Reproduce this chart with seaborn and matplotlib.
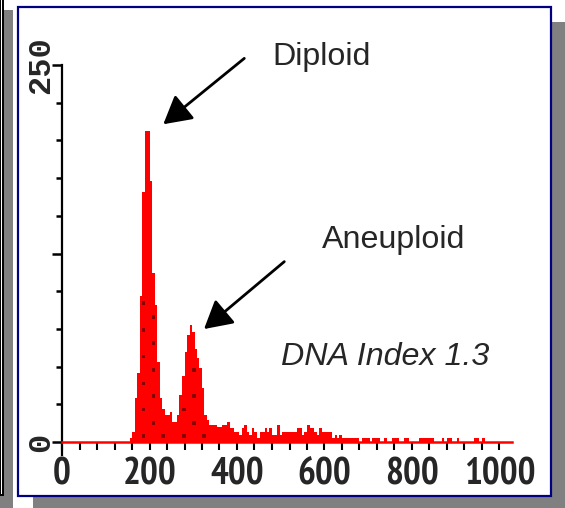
import numpy as np
import pandas as pd
import matplotlib
matplotlib.use("Agg")
import matplotlib.pyplot as plt
from matplotlib import font_manager
from matplotlib.patches import Rectangle
from matplotlib.ticker import FixedLocator, MultipleLocator
import seaborn as sns

# ---------------- data ----------------
bin_width = 40 / 7          # channel width in axis units (180 channels)
counts = [
    0, 0, 0, 0, 0, 0, 0, 0, 0, 0, 0, 0, 0, 0, 0, 0, 0, 0, 0, 0, 0, 0, 0, 0, 0, 0, 0,
    2.4, 6.5, 29, 46, 97, 166, 206, 206, 173, 112, 91, 53, 29, 22, 18, 18, 20, 13.5,
    13.5, 18, 31, 44, 59.5, 71, 77.5, 73, 61.5, 56, 49, 35.5, 18, 14.5, 11.3, 11.3,
    11.3, 9.7, 9.7, 11.3, 11, 13.3,
    9.3, 9.3, 6.6, 6.6, 4.4, 9.3, 11.3, 6.6, 4.4, 9.3, 6.6, 2.4, 6.6, 6.6, 9.3, 6.6,
    9.3, 4.4, 4.4, 11.3, 4.4, 6.6, 6.6, 6.6, 6.6, 6.6, 6.6, 9.3, 9.3, 4.4, 6.6, 11.3,
    9.3, 9.3, 6.6, 4.4, 9.3,
    6.6, 6.6, 6.6, 6.6, 2.4, 4.4, 2.4, 4.4, 2.4, 2.4, 2.4, 2.4, 2.4, 2.4, 2.4, 0,
    2.4, 2.4, 2.4, 0, 2.4, 2.4, 2.4, 0, 0, 2.4, 0, 0, 2.4, 2.4, 2.4, 0, 0, 2.4, 2.4,
    0, 0, 0, 0, 2.4, 2.4, 2.4, 2.4, 2.4, 2.4, 0, 0, 0, 2.4, 0, 2.4, 2.4, 0, 0, 2.4,
    0, 0, 0, 0, 0, 0, 2.4, 2.4, 0, 2.4, 0, 0, 0, 0, 0, 0, 0, 0, 0, 0, 0,
]
dot_x = [186, 186, 186, 186, 186, 186, 209, 209, 209, 209, 209, 231, 279, 279,
         302, 302, 302, 325]
dot_y = [92, 74.3, 56.6, 38.9, 21.6, 3.8, 83.1, 65.5, 47.7, 30.3, 12.6, 3.8, 21.6,
         3.8, 47.7, 30.3, 12.6, 3.8]
x_tick_values = [0, 200, 400, 600, 800, 1000]
x_tick_labels = ["0", "200", "400", "600", "800", "1000"]
y_tick_values = [0, 125, 250]
y_tick_labels = ["0", "", "250"]
label_diploid = "Diploid"
label_aneuploid = "Aneuploid"
label_index = "DNA Index 1.3"

# ---------------- fonts ----------------
sns.set_style("white")
names = {f.name for f in font_manager.fontManager.ttflist}
x_font, x_stretch = "DejaVu Sans", "condensed"
for cand in ["PT Sans Narrow", "Liberation Sans Narrow", "Arial Narrow",
             "Archivo Narrow", "Roboto Condensed", "Asap Condensed",
             "Barlow Semi Condensed", "IBM Plex Sans Condensed"]:
    if cand in names:
        x_font, x_stretch = cand, "normal"
        break
ann_font = ["Liberation Sans", "DejaVu Sans"]
plt.rcParams["font.family"] = ["Liberation Sans", "DejaVu Sans"]

W, H = 565, 508
fig = plt.figure(figsize=(W / 100, H / 100), dpi=100)
fig.patch.set_facecolor("white")

# background decoration axes in pixel coordinates (y down)
bg = fig.add_axes([0, 0, 1, 1], zorder=0)
bg.set_xlim(0, W)
bg.set_ylim(H, 0)
bg.axis("off")
bg.add_patch(Rectangle((0, 10), 13, 500, facecolor="#808080", edgecolor="none"))
bg.add_patch(Rectangle((0, -5), 3.2, 499.5, facecolor="white", edgecolor="black", lw=1.4))
bg.add_patch(Rectangle((33, 22), 540, 500, facecolor="#808080", edgecolor="none"))
bg.add_patch(Rectangle((18, 7), 533, 489, facecolor="white", edgecolor="#000080", lw=1.6))

# main axes
x_max = len(counts) * bin_width
ax = fig.add_axes([62 / W, 53 / H, 450 / W, 390 / H], zorder=1)
ax.set_facecolor("none")

edges = np.arange(len(counts) + 1) * bin_width
centers = (edges[:-1] + edges[1:]) / 2
df = pd.DataFrame({"channel": centers, "count": counts})
sns.histplot(data=df, x="channel", weights="count", binwidth=bin_width,
             binrange=(0, x_max), element="step", fill=True, ax=ax,
             color="#ff0000", alpha=1, edgecolor="none", linewidth=0, zorder=2)

dots = pd.DataFrame({"x": dot_x, "y": dot_y})
sns.scatterplot(data=dots, x="x", y="y", ax=ax, marker="s", s=7,
                color="#8b0000", edgecolor="none", linewidth=0, zorder=3)

ax.set_xlim(0, x_max)
ax.set_ylim(-8.62, 250)
ax.set_xlabel("")
ax.set_ylabel("")

for s in ["top", "right"]:
    ax.spines[s].set_visible(False)
ax.spines["bottom"].set_position(("data", 0))
ax.spines["bottom"].set_color("#ff0000")
ax.spines["bottom"].set_linewidth(1.8)
ax.spines["bottom"].set_zorder(2.6)
ax.spines["left"].set_color("black")
ax.spines["left"].set_linewidth(1.6)

ax.xaxis.set_major_locator(FixedLocator(x_tick_values))
ax.set_xticklabels(x_tick_labels)
ax.xaxis.set_minor_locator(MultipleLocator(40))
ax.tick_params(axis="x", which="both", bottom=True, direction="out", length=5.8,
               width=1.5, color="black", pad=5)
for t in ax.get_xticklabels():
    t.set_fontfamily([x_font, "DejaVu Sans"])
    t.set_fontsize(27)
    t.set_fontweight("bold")
    t.set_fontstretch(x_stretch)

ax.yaxis.set_major_locator(FixedLocator(y_tick_values))
ax.set_yticklabels(y_tick_labels)
ax.yaxis.set_minor_locator(MultipleLocator(25))
ax.tick_params(axis="y", which="major", left=True, direction="out", length=7.2,
               width=1.8, color="black", pad=-3)
ax.tick_params(axis="y", which="minor", left=True, direction="out", length=4.3,
               width=1.8, color="black")
for t in ax.get_yticklabels():
    t.set_fontfamily(["Liberation Mono", "DejaVu Sans Mono"])
    t.set_fontsize(23)
    t.set_fontweight("bold")
    t.set_rotation(90)
    t.set_va("center")

# annotations
arrow_kw = dict(arrowstyle="-|>,head_length=1.7,head_width=0.95", mutation_scale=10,
                lw=2, color="black", shrinkA=0, shrinkB=0)
ax.annotate("", xy=(231.5, 210.7), xytext=(416.7, 254.4), arrowprops=arrow_kw,
            annotation_clip=False)
ax.annotate("", xy=(324.6, 74.9), xytext=(508.1, 119.6), arrowprops=arrow_kw,
            annotation_clip=False)
ax.text(480, 250, label_diploid, ha="left", va="baseline", fontsize=23.2,
        family=ann_font, clip_on=False)
ax.text(594, 128.6, label_aneuploid, ha="left", va="baseline", fontsize=23.2,
        family=ann_font, clip_on=False)
ax.text(500, 51.1, label_index, ha="left", va="baseline", fontsize=23.2,
        style="italic", family=ann_font, clip_on=False)

fig.savefig("out.png", dpi=100)
